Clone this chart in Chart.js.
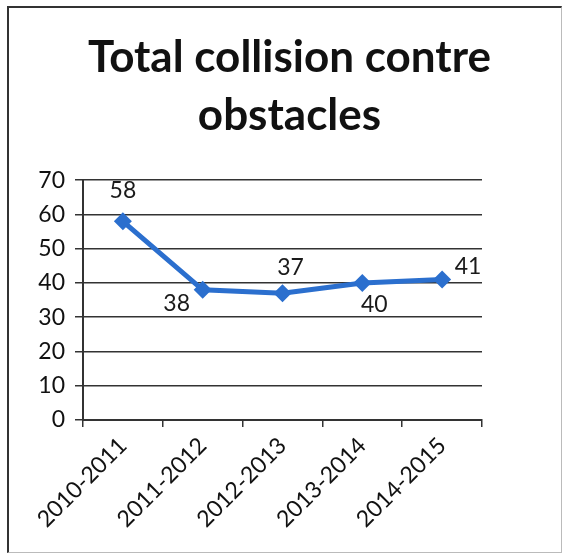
<!DOCTYPE html>
<html>
<head>
<meta charset="utf-8">
<script src="https://cdn.jsdelivr.net/npm/chart.js@4/dist/chart.umd.min.js"></script>
<style>
  body { margin: 0; background: #fff; }
  #wrap { position: relative; width: 565px; height: 556px; }
  #frame {
    position: absolute; left: 7px; top: 6px; width: 555px; height: 547px;
    border-left: 2px solid #333; border-top: 2px solid #333;
    border-right: 1px solid #bbb; border-bottom: 1px solid #bbb;
    box-sizing: border-box; pointer-events: none;
  }
</style>
</head>
<body>
<div id="wrap">
  <canvas id="myChart" width="565" height="556"></canvas>
  <div id="frame"></div>
</div>
<script>
// donnees
const categories = ['2010-2011', '2011-2012', '2012-2013', '2013-2014', '2014-2015'];
const collisions = [58, 38, 37, 40, 41];
const yTicks = [0, 10, 20, 30, 40, 50, 60, 70];

const titleLines = ['Total collision contre', 'obstacles'];
const blue = '#2b6fce';
const ink = '#333333';

// etiquettes de donnees facon Excel (decalage par point)
const labelOffsets = [[0, -31], [-26, 14], [8, -26], [12, 22], [26, -13]];

const dataLabels = {
  id: 'dataLabels',
  afterDatasetsDraw(chart) {
    const ctx = chart.ctx;
    const meta = chart.getDatasetMeta(0);
    ctx.save();
    ctx.font = '23px Lato';
    ctx.fillStyle = '#1a1a1a';
    ctx.textAlign = 'center';
    ctx.textBaseline = 'middle';
    meta.data.forEach((pt, i) => {
      const off = labelOffsets[i];
      ctx.fillText(String(collisions[i]), pt.x + off[0], pt.y + off[1]);
    });
    ctx.restore();
  }
};

const ctx = document.getElementById('myChart').getContext('2d');
new Chart(ctx, {
  type: 'line',
  data: {
    labels: categories,
    datasets: [{
      data: collisions,
      borderColor: blue,
      backgroundColor: blue,
      borderWidth: 5,
      pointStyle: 'rectRot',
      pointRadius: 9,
      pointHoverRadius: 9,
      pointBorderWidth: 0,
      tension: 0
    }]
  },
  options: {
    responsive: false,
    animation: false,
    events: [],
    layout: { padding: { left: 14, right: 0, top: 0, bottom: 0 } },
    plugins: {
      legend: { display: false },
      tooltip: { enabled: false },
      title: {
        display: true,
        text: titleLines,
        color: '#111',
        font: { family: 'Lato', size: 44, weight: 'bold', lineHeight: 1.32 },
        padding: { top: 29, bottom: 35 }
      }
    },
    scales: {
      x: {
        offset: true,
        grid: {
          display: true,
          offset: true,
          drawOnChartArea: false,
          drawTicks: true,
          tickLength: 7,
          color: ink,
          lineWidth: 1.5
        },
        border: { display: true, color: ink, width: 2 },
        ticks: {
          color: '#111',
          font: { family: 'Lato', size: 23 },
          minRotation: 45,
          maxRotation: 45,
          padding: 5
        },
        afterFit(scale) { scale.height = 136; }
      },
      y: {
        min: 0,
        max: 70,
        afterBuildTicks(scale) { scale.ticks = yTicks.map(v => ({ value: v })); },
        grid: {
          color: ink,
          lineWidth: 1.5,
          tickLength: 8
        },
        border: { display: true, color: ink, width: 2 },
        ticks: {
          color: '#111',
          font: { family: 'Lato', size: 23 },
          padding: 10
        },
        afterFit(scale) { scale.width = 69; }
      },
      // marge droite vide, pour garder le titre centre sur toute la largeur
      yRight: {
        position: 'right',
        display: true,
        grid: { display: false },
        border: { display: false },
        ticks: { display: false },
        afterFit(scale) { scale.width = 83; }
      }
    }
  },
  plugins: [dataLabels]
});
</script>
</body>
</html>
